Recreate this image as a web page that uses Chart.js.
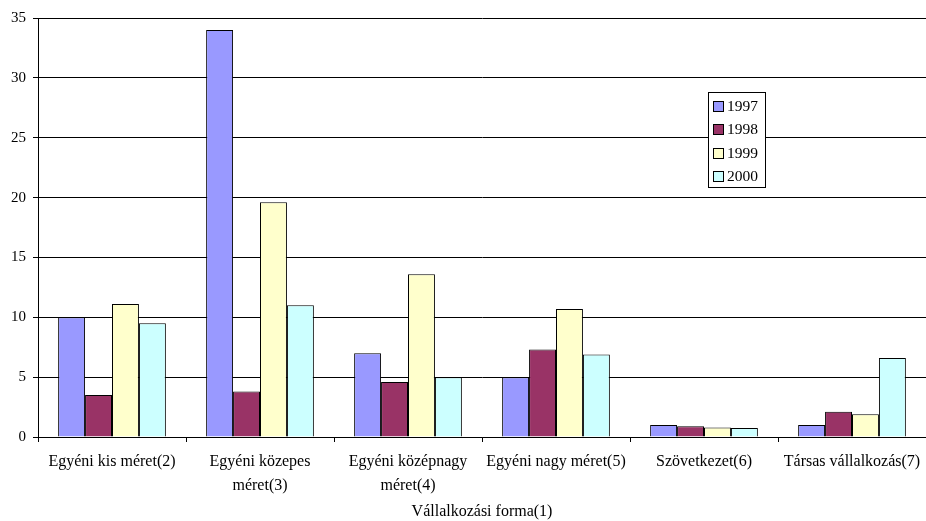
<!DOCTYPE html>
<html>
<head>
<meta charset="utf-8">
<script src="https://cdn.jsdelivr.net/npm/chart.js@4/dist/chart.umd.min.js"></script>
<style>
  html, body { margin: 0; padding: 0; background: #fff; }
  #wrap { width: 926px; height: 521px; }
</style>
</head>
<body>
<div id="wrap"><canvas id="c" width="926" height="521"></canvas></div>
<script>
// Business forms on the category axis
const categories = [
  'Egyéni kis méret(2)',
  ['Egyéni közepes', 'méret(3)'],
  ['Egyéni középnagy', 'méret(4)'],
  'Egyéni nagy méret(5)',
  'Szövetkezet(6)',
  'Társas vállalkozás(7)'
];
const years = ['1997', '1998', '1999', '2000'];
const values1997 = [10, 34, 7, 5, 1.0, 1.0];
const values1998 = [3.5, 3.8, 4.6, 7.3, 0.9, 2.1];
const values1999 = [11.1, 19.6, 13.6, 10.7, 0.8, 1.9];
const values2000 = [9.5, 11.0, 5.0, 6.9, 0.75, 6.6];
const yTicks = [0, 5, 10, 15, 20, 25, 30, 35];
const axisTitle = 'Vállalkozási forma(1)';

const colors = ['#9999FF', '#993366', '#FFFFCC', '#CCFFFF'];
const series = [values1997, values1998, values1999, values2000];
const FONT = '"Liberation Serif", "Times New Roman", serif';

// Legend box drawn inside the plot, to the right
const boxLegend = {
  id: 'boxLegend',
  afterDraw(chart) {
    const ctx = chart.ctx;
    const x = 708.5, y = 92.5, w = 57, h = 95;
    ctx.save();
    ctx.fillStyle = '#fff';
    ctx.strokeStyle = '#000';
    ctx.lineWidth = 1;
    ctx.fillRect(x, y, w, h);
    ctx.strokeRect(x, y, w, h);
    ctx.font = '15.5px ' + FONT;
    ctx.textBaseline = 'middle';
    chart.data.datasets.forEach((ds, i) => {
      const cy = 105.5 + i * 23.6;
      ctx.fillStyle = ds.backgroundColor;
      ctx.fillRect(713.5, Math.round(cy - 5) + 0.5, 10, 10);
      ctx.strokeRect(713.5, Math.round(cy - 5) + 0.5, 10, 10);
      ctx.fillStyle = '#000';
      ctx.fillText(ds.label, 727, cy + 1);
    });
    ctx.restore();
  }
};

new Chart(document.getElementById('c'), {
  type: 'bar',
  data: {
    labels: categories,
    datasets: years.map((yr, i) => ({
      label: yr,
      data: series[i],
      backgroundColor: colors[i],
      borderColor: '#000',
      borderWidth: 1,
      categoryPercentage: 0.728,
      barPercentage: 1.0
    }))
  },
  options: {
    responsive: false,
    animation: false,
    devicePixelRatio: 1,
    layout: { padding: { top: 18, right: -2, left: 0, bottom: 0 } },
    plugins: {
      legend: { display: false },
      tooltip: { enabled: false }
    },
    scales: {
      x: {
        offset: true,
        grid: {
          display: true,
          drawOnChartArea: false,
          drawTicks: true,
          tickLength: 5,
          color: '#000',
          offset: true
        },
        border: { display: true, color: '#000', width: 1 },
        ticks: {
          color: '#000',
          font: { family: FONT, size: 16, lineHeight: 1.5 },
          padding: 8,
          maxRotation: 0,
          autoSkip: false
        },
        title: {
          display: true,
          text: axisTitle,
          color: '#000',
          font: { family: FONT, size: 16 },
          padding: { top: 4, bottom: 0 }
        },
        afterFit(scale) {
          scale.height = 84;
          scale.paddingLeft = 0;
          scale.paddingRight = 0;
        }
      },
      y: {
        min: 0,
        max: 35,
        afterBuildTicks(scale) { scale.ticks = yTicks.map(v => ({ value: v })); },
        grid: {
          color: '#000',
          lineWidth: 1,
          drawTicks: true,
          tickLength: 5
        },
        border: { display: true, color: '#000', width: 1 },
        ticks: {
          color: '#000',
          font: { family: FONT, size: 15 },
          padding: 7
        },
        afterFit(scale) { scale.width = 38; }
      }
    }
  },
  plugins: [boxLegend]
});
</script>
</body>
</html>
